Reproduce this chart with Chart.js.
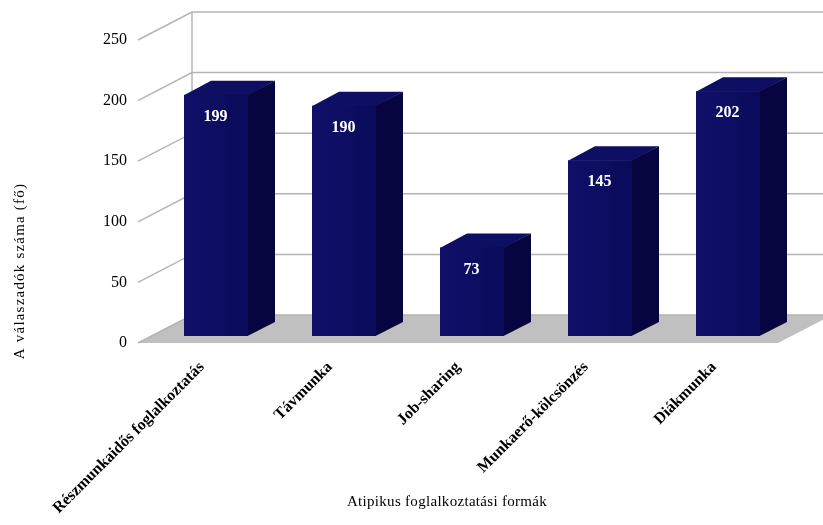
<!DOCTYPE html>
<html lang=hu>

<head>
    <meta charset=UTF-8>
    <title>Atipikus foglalkoztatási formák</title>
    <style>
        * {
            margin: 0;
            padding: 0;
        }

        body {
            background: #fff;
        }

        canvas {
            display: block;
        }
    </style>
</head>

<body>
    <canvas id="myChart" width="823" height="525"></canvas>
    <script src="https://cdn.jsdelivr.net/npm/chart.js"></script>
    <script>
        const labels = ['Részmunkaidős foglalkoztatás', 'Távmunka', 'Job-sharing', 'Munkaerő-kölcsönzés', 'Diákmunka']
        const valaszadok = [199, 190, 73, 145, 202]
        const yTicks = [0, 50, 100, 150, 200, 250]

        // depth of the box (floor / left wall), bars sit in the middle half of it
        const DX = 54, DY = -28
        const serif = "'Liberation Serif', 'Times New Roman', serif"

        const box3d = {
            id: 'box3d',
            beforeDatasetsDraw(chart) {
                const { ctx, chartArea: a, scales: { y } } = chart
                ctx.save()
                // floor
                ctx.fillStyle = '#c0c0c0'
                ctx.beginPath()
                ctx.moveTo(a.left, a.bottom)
                ctx.lineTo(a.left + DX, a.bottom + DY)
                ctx.lineTo(a.right + DX, a.bottom + DY)
                ctx.lineTo(a.right, a.bottom)
                ctx.closePath()
                ctx.fill()

                // grid on left and back wall
                ctx.strokeStyle = '#b4b4b4'
                ctx.lineWidth = 1.5
                yTicks.forEach(v => {
                    const py = y.getPixelForValue(v)
                    ctx.beginPath()
                    ctx.moveTo(a.left, py)
                    ctx.lineTo(a.left + DX, py + DY)
                    ctx.lineTo(a.right + DX, py + DY)
                    ctx.stroke()
                })
                ctx.beginPath()
                ctx.moveTo(a.left + DX, y.getPixelForValue(250) + DY)
                ctx.lineTo(a.left + DX, y.getPixelForValue(0) + DY)
                ctx.stroke()
                ctx.restore()
            },
            beforeDatasetDraw(chart, args) {
                const ctx = chart.ctx
                const ox = DX * 0.25, oy = DY * 0.25
                const dx = DX * 0.5, dy = DY * 0.5
                ctx.save()
                args.meta.data.forEach(bar => {
                    const x0 = Math.round(bar.x - bar.width / 2 + ox)
                    const x1 = Math.round(bar.x + bar.width / 2 + ox)
                    const top = bar.y + oy
                    const bot = bar.base + oy
                    // side
                    ctx.fillStyle = '#06053f'
                    ctx.beginPath()
                    ctx.moveTo(x1 - 0.5, top)
                    ctx.lineTo(x1 + dx, top + dy)
                    ctx.lineTo(x1 + dx, bot + dy)
                    ctx.lineTo(x1 - 0.5, bot)
                    ctx.closePath()
                    ctx.fill()
                    // top
                    ctx.fillStyle = '#0e0e62'
                    ctx.beginPath()
                    ctx.moveTo(x0, top + 0.5)
                    ctx.lineTo(x0 + dx, top + dy)
                    ctx.lineTo(x1 + dx, top + dy)
                    ctx.lineTo(x1, top + 0.5)
                    ctx.closePath()
                    ctx.fill()
                    // front
                    const g = ctx.createLinearGradient(x0, 0, x1, 0)
                    g.addColorStop(0, '#10106a')
                    g.addColorStop(1, '#0a0a5a')
                    ctx.fillStyle = g
                    ctx.fillRect(x0, top, x1 - x0, bot - top)
                })
                ctx.restore()
                return false
            },
            afterDatasetsDraw(chart) {
                const ctx = chart.ctx
                const meta = chart.getDatasetMeta(0)
                ctx.save()
                ctx.fillStyle = '#fff'
                ctx.font = 'bold 16px ' + serif
                ctx.textAlign = 'center'
                ctx.textBaseline = 'middle'
                meta.data.forEach((bar, i) => {
                    ctx.fillText(valaszadok[i], bar.x + DX * 0.25, bar.y + DY * 0.25 + 22)
                })
                ctx.restore()

                // axis titles
                ctx.save()
                ctx.fillStyle = '#000'
                ctx.font = '15px ' + serif
                ctx.textAlign = 'center'
                ctx.textBaseline = 'middle'
                ctx.letterSpacing = '0.3px'
                ctx.fillText('Atipikus foglalkoztatási formák', 447, 502)
                ctx.translate(20, 271)
                ctx.rotate(-Math.PI / 2)
                ctx.letterSpacing = '1.2px'
                ctx.fillText('A válaszadók száma (fő)', 0, 0)
                ctx.restore()
            }
        }

        new Chart(document.getElementById('myChart'), {
            type: 'bar',
            data: {
                labels,
                datasets: [{
                    data: valaszadok,
                    backgroundColor: '#10106a',
                    barPercentage: 1,
                    categoryPercentage: 0.5
                }]
            },
            options: {
                responsive: false,
                animation: false,
                layout: { padding: { left: 0, top: 40, right: 45, bottom: 0 } },
                plugins: {
                    legend: { display: false },
                    tooltip: { enabled: false }
                },
                scales: {
                    x: {
                        grid: { display: false, drawTicks: false },
                        border: { display: false },
                        ticks: {
                            color: '#000',
                            font: { family: serif, size: 16, weight: 'bold' },
                            minRotation: 45,
                            maxRotation: 45,
                            autoSkip: false,
                            padding: 15
                        },
                        afterFit: s => { s.height = 182 }
                    },
                    y: {
                        min: 0,
                        max: 250,
                        grid: { display: false, drawTicks: false },
                        border: { display: false },
                        ticks: {
                            stepSize: 50,
                            color: '#000',
                            font: { family: serif, size: 16 },
                            padding: 11
                        },
                        afterFit: s => { s.width = 138 }
                    }
                }
            },
            plugins: [box3d]
        });
    </script>
</body>

</html>
